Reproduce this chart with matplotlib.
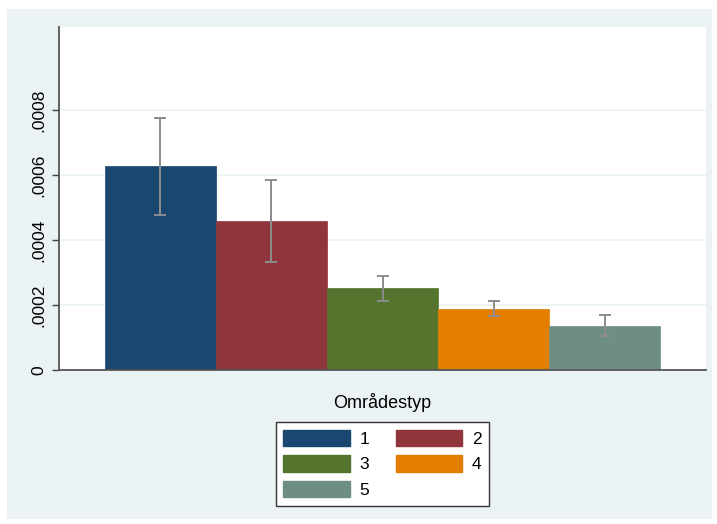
import matplotlib.pyplot as plt
from matplotlib.patches import Rectangle, Patch

plt.rcParams['font.family'] = ['Liberation Sans', 'DejaVu Sans']

# Data
categories = ['1', '2', '3', '4', '5']
means = [0.000626, 0.000458, 0.000251, 0.000188, 0.000134]
ci_low = [0.000476, 0.000333, 0.000212, 0.000165, 0.000105]
ci_high = [0.000774, 0.000583, 0.000290, 0.000212, 0.000168]
colors = ['#1A476F', '#90353B', '#55752F', '#E37E00', '#6E8E84']
yticks = [0, 0.0002, 0.0004, 0.0006, 0.0008]
yticklabels = ['0', '.0002', '.0004', '.0006', '.0008']

W, H = 717, 524
fig = plt.figure(figsize=(W / 100, H / 100), dpi=100, facecolor='white')

# Stata-like outer background
bg = Rectangle((7 / W, 1 - 519 / H), (712 - 7) / W, (519 - 9) / H,
               transform=fig.transFigure, facecolor='#EAF2F3',
               edgecolor='none', zorder=-10)
fig.add_artist(bg)

ax = fig.add_axes([59 / W, 1 - 370 / H, (706 - 59) / W, (370 - 27) / H])
ax.set_zorder(1)
ax.set_facecolor('white')

x = list(range(len(categories)))
ax.bar(x, means, width=1.0, color=colors, edgecolor=colors, linewidth=0.5, zorder=2)

yerr = [[m - lo for m, lo in zip(means, ci_low)],
        [hi - m for m, hi in zip(means, ci_high)]]
ax.errorbar(x, means, yerr=yerr, fmt='none', ecolor='#8C8C8C', elinewidth=1.4,
            capsize=4.5, capthick=1.4, zorder=3)

ax.set_xlim(-0.914, 4.914)
ax.set_ylim(0, 0.001055)
ax.set_xticks([])
ax.set_yticks(yticks)
ax.set_yticklabels(yticklabels, rotation=90, va='center', fontsize=12.5)
ax.tick_params(axis='y', length=5, width=1, color='#444444', pad=4)
ax.yaxis.grid(True, color='#EAF2F3', linewidth=1.2, zorder=0)
ax.set_axisbelow(True)

for s in ['top', 'right']:
    ax.spines[s].set_visible(False)
for s in ['left', 'bottom']:
    ax.spines[s].set_color('#555555')
    ax.spines[s].set_linewidth(1.3)

fig.text(382.5 / W, 1 - 403 / H, 'Områdestyp', ha='center', va='center', fontsize=13)

# Legend, row-wise order: 1 2 / 3 4 / 5
order = [0, 2, 4, 1, 3]
handles = [Patch(facecolor=colors[i], edgecolor=colors[i]) for i in order]
labels = [categories[i] for i in order]
leg = fig.legend(handles, labels, ncol=2, loc='upper center',
                 bbox_to_anchor=(382.5 / W, 1 - 422 / H), fontsize=12.5,
                 handlelength=3.85, handleheight=1.1, handletextpad=0.55,
                 labelspacing=0.47, columnspacing=1.5, borderpad=0.45,
                 borderaxespad=0, fancybox=False, frameon=True, framealpha=1)
leg.get_frame().set_edgecolor('#333333')
leg.get_frame().set_linewidth(1.0)
leg.set_zorder(5)

fig.savefig('out.png', dpi=100, facecolor='white')
